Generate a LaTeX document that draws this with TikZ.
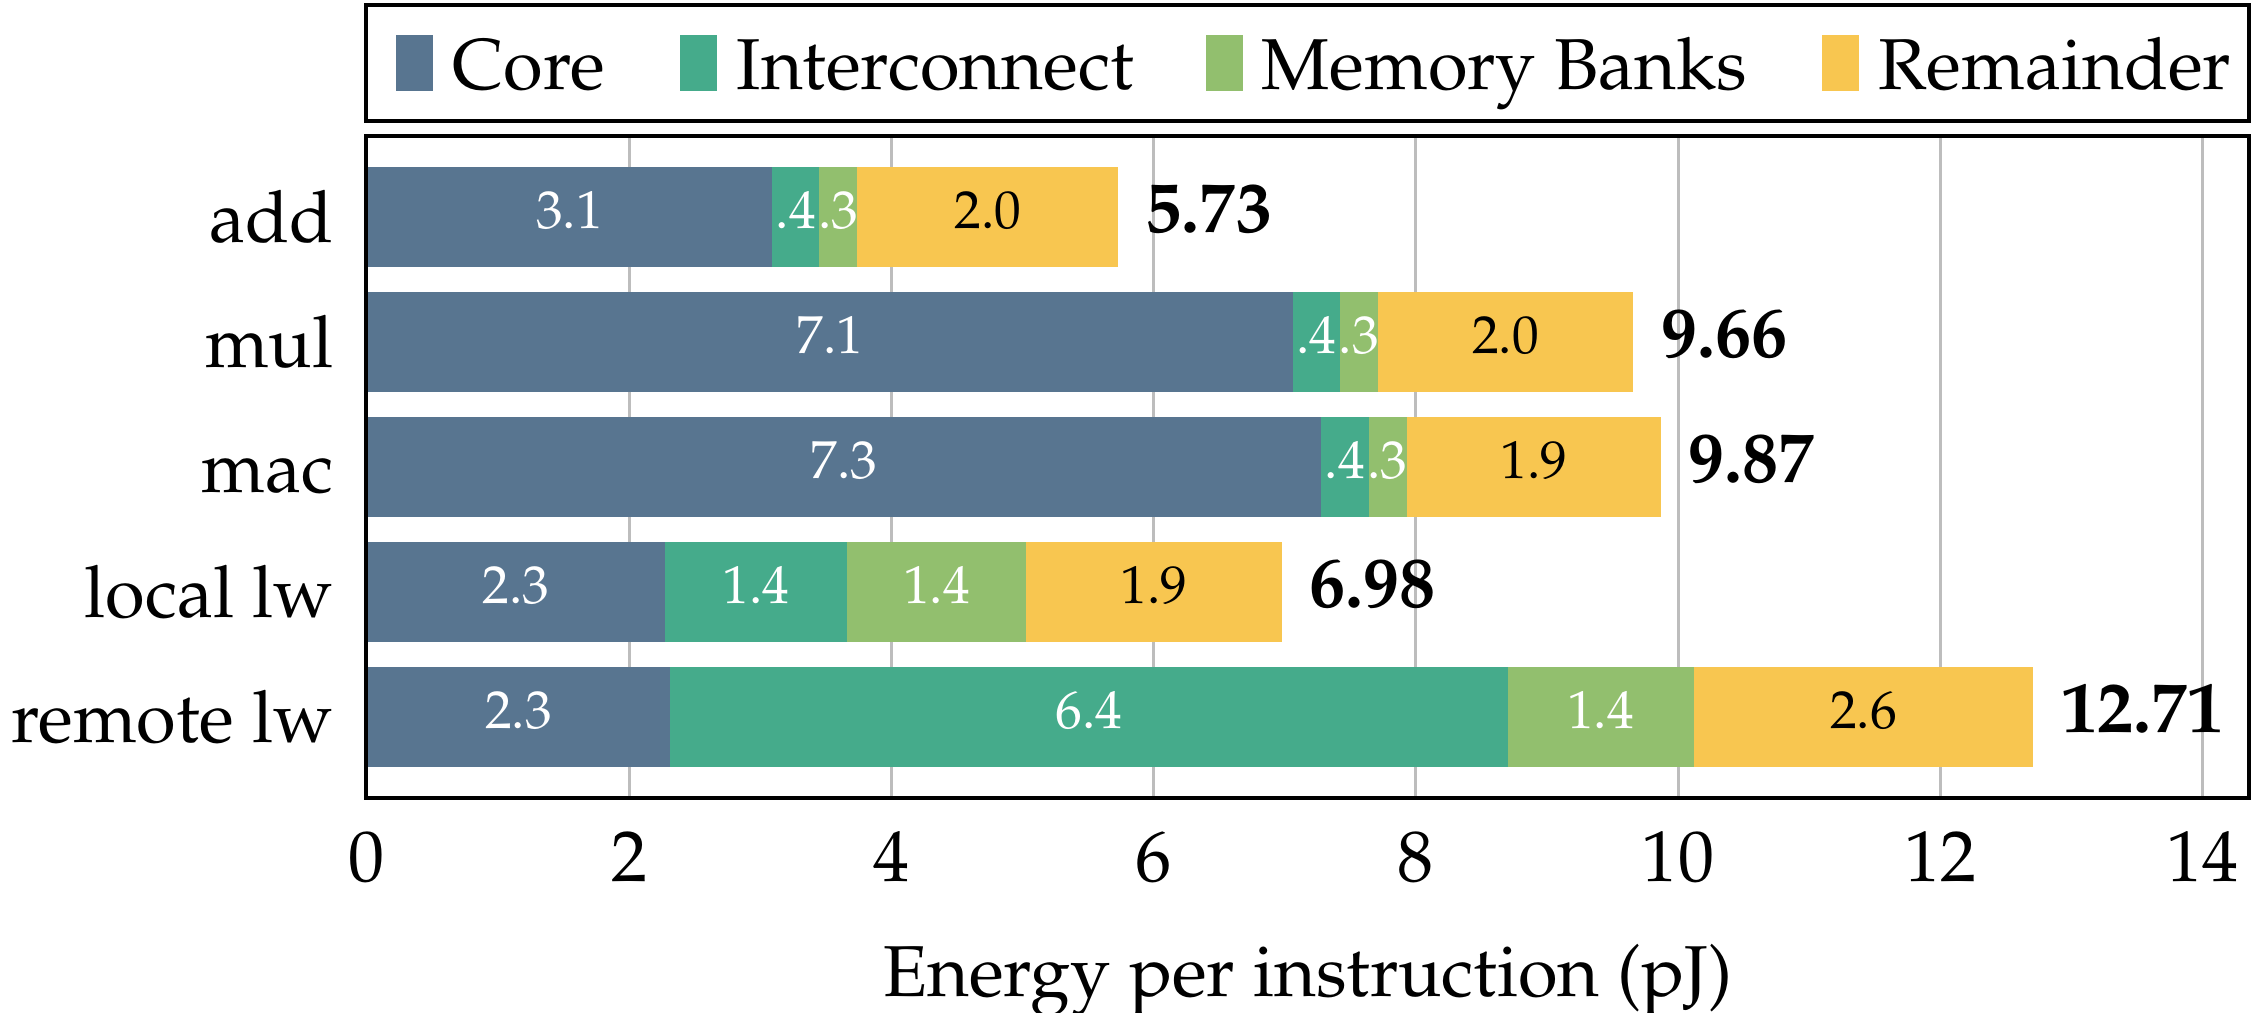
\documentclass[tikz,border=0pt]{standalone}
\usepackage[T1]{fontenc}
\renewcommand{\rmdefault}{ppl}
\definecolor{corec}{HTML}{587590}
\definecolor{icc}{HTML}{45AB8B}
\definecolor{memc}{HTML}{92BF6E}
\definecolor{remc}{HTML}{F8C650}
\definecolor{gridc}{HTML}{BDBDBD}
\begin{document}
\begin{tikzpicture}[x=0.01cm,y=-0.01cm,
  every node/.style={inner sep=0pt, font=\fontsize{20.5}{24}\selectfont},
  seglabel/.style={anchor=base, font=\fontsize{15.2}{18}\selectfont},
  frameline/.style={line width=1.3pt, black},
  gridline/.style={line width=0.85pt, gridc}]
\useasboundingbox (0,0) rectangle (2263,1013);
\def\xo{367}
\def\ux{131.1}

% vertical grid lines
\foreach \t in {2,4,...,14}
  \draw[gridline] ({\xo+\t*\ux},136) -- ({\xo+\t*\ux},798);

% stacked bars: name / centre y / core / interconnect / memory / remainder / labels / total
\foreach \n/\y/\a/\b/\c/\d/\la/\lb/\lc/\ld/\tot in {
    add/217/3.09/0.36/0.29/1.99/3.1/.4/.3/2.0/5.73,
    mul/342/7.06/0.36/0.29/1.95/7.1/.4/.3/2.0/9.66,
    mac/467/7.28/0.36/0.29/1.94/7.3/.4/.3/1.9/9.87,
    local lw/592/2.27/1.39/1.37/1.95/2.3/1.4/1.4/1.9/6.98,
    remote lw/717/2.31/6.39/1.42/2.59/2.3/6.4/1.4/2.6/12.71} {
  \pgfmathsetmacro\xa{\xo+\a*\ux}
  \pgfmathsetmacro\xb{\xa+\b*\ux}
  \pgfmathsetmacro\xc{\xb+\c*\ux}
  \pgfmathsetmacro\xd{\xc+\d*\ux}
  \fill[corec] (\xo,\y-50) rectangle (\xa,\y+50);
  \fill[icc] (\xa,\y-50) rectangle (\xb,\y+50);
  \fill[memc] (\xb,\y-50) rectangle (\xc,\y+50);
  \fill[remc] (\xc,\y-50) rectangle (\xd,\y+50);
  \node[seglabel, text=white] at ({(\xo+\xa)/2},\y+12) {\la};
  \node[seglabel, text=white] at ({(\xa+\xb)/2},\y+12) {\lb};
  \node[seglabel, text=white] at ({(\xb+\xc)/2},\y+12) {\lc};
  \node[seglabel, text=black] at ({(\xc+\xd)/2},\y+12) {\ld};
  \node[anchor=base west, font=\fontsize{20.5}{24}\selectfont\bfseries] at (\xd+27,\y+16) {\tot};
  \node[anchor=base east] at (334,\y+26) {\n};
}

% plot frame
\draw[frameline] (366,136) rectangle (2249,798);

% x tick labels and axis title
\foreach \t in {0,2,...,14}
  \node[anchor=base] (tick\t) at ({\xo+\t*\ux},882) {\t};
\node[anchor=base] (xlabel) at (1308,996) {Energy per instruction (pJ)};

% legend
\draw[frameline] (366,5) rectangle (2249,121);
\foreach \sx/\tx/\col/\txt in {396/452/corec/Core, 680/736/icc/Interconnect,
    1206/1261/memc/Memory Banks, 1822/1878/remc/Remainder} {
  \fill[\col] (\sx,35) rectangle (\sx+37,91);
  \node[anchor=base west] at (\tx,90) {\txt};
}
\end{tikzpicture}
\end{document}
